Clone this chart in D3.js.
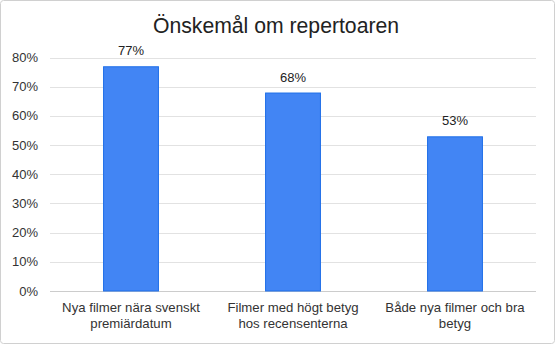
<!DOCTYPE html>
<html><head><meta charset="utf-8">
<script src="https://cdn.jsdelivr.net/npm/d3@7"></script>
<style>body{margin:0;background:#fff}svg{display:block}text{font-family:"Liberation Sans",Arial,sans-serif}</style>
</head><body><svg id="c" width="555" height="344"></svg>
<script>
const title = "Önskemål om repertoaren";
const categories = [["Nya filmer nära svenskt","premiärdatum"],["Filmer med högt betyg","hos recensenterna"],["Både nya filmer och bra","betyg"]];
const values = [0.77, 0.68, 0.53];
const ticks = [0,0.1,0.2,0.3,0.4,0.5,0.6,0.7,0.8];

const svg = d3.select("#c");
svg.append("rect").attr("x",0.5).attr("y",0.5).attr("width",554).attr("height",343).attr("rx",3)
  .attr("fill","#fff").attr("stroke","#d0d0d0");
svg.append("text").attr("x",276).attr("y",33).attr("text-anchor","middle")
  .attr("font-size",21.2).attr("fill","#222").text(title);

const x = d3.scaleBand().domain(d3.range(categories.length)).range([50,536]).padding(0);
const y = d3.scaleLinear().domain([0,0.8]).range([291,57.5]);

const g = svg.append("g");
g.selectAll("line.grid").data(ticks).join("line")
  .attr("x1",50).attr("x2",536).attr("y1",d=>Math.round(y(d))+0.5).attr("y2",d=>Math.round(y(d))+0.5)
  .attr("stroke",d=>d===0?"#cccccc":"#e2e2e2");
g.selectAll("text.tick").data(ticks).join("text")
  .attr("x",38).attr("y",d=>y(d)+4.5).attr("text-anchor","end").attr("font-size",13).attr("fill","#333")
  .text(d=>d3.format(".0%")(d));

const bw = x.bandwidth()*0.345;
g.selectAll("rect.bar").data(values).join("rect")
  .attr("x",(d,i)=>x(i)+x.bandwidth()/2-bw/2+0.5).attr("width",bw-1)
  .attr("y",d=>y(d)+0.5).attr("height",d=>y(0)-y(d)-0.5)
  .attr("fill","#4285f4").attr("stroke","#1f6fe8").attr("stroke-width",1);
g.selectAll("text.val").data(values).join("text")
  .attr("x",(d,i)=>x(i)+x.bandwidth()/2).attr("y",d=>y(d)-11).attr("text-anchor","middle")
  .attr("font-size",13).attr("fill","#222").text(d=>d3.format(".0%")(d));

categories.forEach((lines,i)=>{
  const t = g.append("text").attr("x",x(i)+x.bandwidth()/2).attr("text-anchor","middle")
    .attr("font-size",13.2).attr("fill","#333");
  lines.forEach((l,j)=>t.append("tspan").attr("x",x(i)+x.bandwidth()/2).attr("y",312+j*15.5).text(l));
});
</script></body></html>
